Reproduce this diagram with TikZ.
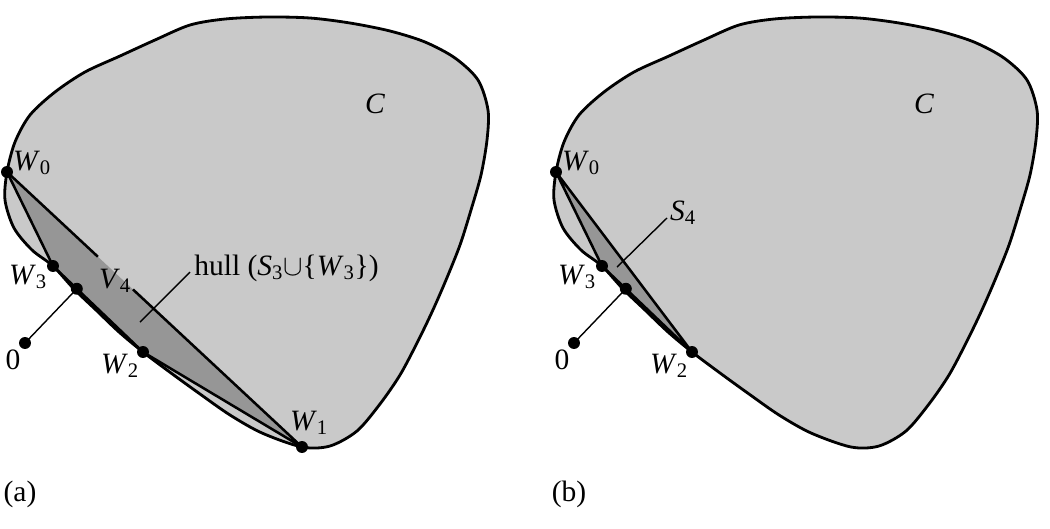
\documentclass[tikz,border=0pt]{standalone}
\usepackage{fontspec}
\setmainfont{Liberation Serif}
\usepackage{tikz}
\usetikzlibrary{calc,positioning}

\definecolor{setgray}{gray}{0.79}
\definecolor{hullgray}{gray}{0.59}

\begin{document}
\begin{tikzpicture}[
    x=0.025cm, y=-0.025cm,
    font=\fontsize{21}{25}\selectfont,
    boundary/.style={insert path={plot[smooth cycle] coordinates {
        (7,172) (15,142) (30,115) (55,92) (85,72) (120,56) (155,40) (190,25)
        (225,19) (267,17) (310,18) (350,23) (390,31) (425,42) (455,58) (478,80)
        (488,110) (487,140) (481,175) (471,210) (460,245) (446,280) (432,312)
        (417,343) (400,375) (380,404) (357,431) (330,446) (302,447) (262,433)
        (230,415) (200,394) (171,373) (143,352) (119,332) (96.5,310.5) (74,289)
        (53,266) (32,250) (14,228) (5,200)}}},
    outline/.style={draw, line width=2pt},
    hulledge/.style={draw, line width=1.8pt, line join=round},
    dot/.style={circle, fill=black, inner sep=0pt, minimum size=8.5pt},
    lead/.style={line width=1pt},
    tag/.style={inner sep=0pt}
]
    \useasboundingbox (0,0) rectangle (1050,528);

    % === PANEL (a) ===
    \begin{scope}
        \coordinate (aW0) at (7,172);
        \coordinate (aW3) at (53,266);
        \coordinate (aW2) at (143,352);
        \coordinate (aW1) at (302,447);
        \coordinate (aO) at (25,343);
        \coordinate (aV) at ($(aW3)!(aO)!(aW2)$);

        \fill[setgray, boundary];
        \begin{scope}
            \clip (aW3) -- (aW2) -- ($(aW2)!12pt!90:(aW3)$) -- ($(aW3)!12pt!-90:(aW2)$) -- cycle;
            \fill[white] (0,0) rectangle (1050,528);
        \end{scope}
        \fill[hullgray] (aW0) -- (aW3) -- (aW2) -- (aW1) -- cycle;
        \path[outline, boundary];
        \draw[hulledge] (aW0) -- (aW3) -- (aW2) -- (aW1) -- ($(aW1)!0.573!(aW0)$);
        \draw[hulledge] ($(aW0)!0.308!(aW1)$) -- (aW0);
        \draw[lead] (aO) -- (aV);

        \coordinate (ahullfoot) at (140,322);
        \coordinate (ahulltop) at (190,272);
        \draw[lead] (ahullfoot) -- (ahulltop);

        \node[dot] (aW0dot) at (aW0) {};
        \node[dot] (aW3dot) at (aW3) {};
        \node[dot] (aW2dot) at (aW2) {};
        \node[dot] (aW1dot) at (aW1) {};
        \node[dot] (aVdot) at (aV) {};
        \node[dot] (aOdot) at (aO) {};

        \node[tag] (aC) at (375,104) {\textit{C}};
        \node[tag] (aW0lbl) at (32,163) {\textit{W}\textsubscript{0}};
        \node[tag] (aW3lbl) at (28,277) {\textit{W}\textsubscript{3}};
        \node[tag] (aW2lbl) at (120,366) {\textit{W}\textsubscript{2}};
        \node[tag] (aW1lbl) at (309,423) {\textit{W}\textsubscript{1}};
        \node[tag] (aV4lbl) at (115,281) {\textit{V}\textsubscript{4}};
        \node[tag] (aOlbl) at (13,360) {0};
        \node[tag, anchor=west] (ahull) at (194,268) {hull (\textit{S}\textsubscript{3}$\cup$\{\textit{W}\textsubscript{3}\})};
        \node[tag] (atitle) at (20,494) {(a)};
    \end{scope}

    % === PANEL (b) ===
    \begin{scope}[shift={(549,0)}]
        \coordinate (bW0) at (7,172);
        \coordinate (bW3) at (53,266);
        \coordinate (bW2) at (143,352);
        \coordinate (bO) at (25,343);
        \coordinate (bV) at ($(bW3)!(bO)!(bW2)$);

        \fill[setgray, boundary];
        \begin{scope}
            \clip (bW3) -- (bW2) -- ($(bW2)!12pt!90:(bW3)$) -- ($(bW3)!12pt!-90:(bW2)$) -- cycle;
            \fill[white] (-549,0) rectangle (501,528);
        \end{scope}
        \fill[hullgray] (bW0) -- (bW3) -- (bW2) -- cycle;
        \path[outline, boundary];
        \draw[hulledge] (bW0) -- (bW3) -- (bW2) -- cycle;
        \draw[lead] (bO) -- (bV);

        \coordinate (bS4foot) at (68,267);
        \coordinate (bS4top) at (118,218);
        \draw[lead] (bS4foot) -- (bS4top);

        \node[dot] (bW0dot) at (bW0) {};
        \node[dot] (bW3dot) at (bW3) {};
        \node[dot] (bW2dot) at (bW2) {};
        \node[dot] (bVdot) at (bV) {};
        \node[dot] (bOdot) at (bO) {};

        \node[tag] (bC) at (375,104) {\textit{C}};
        \node[tag] (bW0lbl) at (32,163) {\textit{W}\textsubscript{0}};
        \node[tag] (bW3lbl) at (28,277) {\textit{W}\textsubscript{3}};
        \node[tag] (bW2lbl) at (120,366) {\textit{W}\textsubscript{2}};
        \node[tag] (bS4lbl) at (134,213) {\textit{S}\textsubscript{4}};
        \node[tag] (bOlbl) at (13,360) {0};
        \node[tag] (btitle) at (20,494) {(b)};
    \end{scope}

\end{tikzpicture}
\end{document}
